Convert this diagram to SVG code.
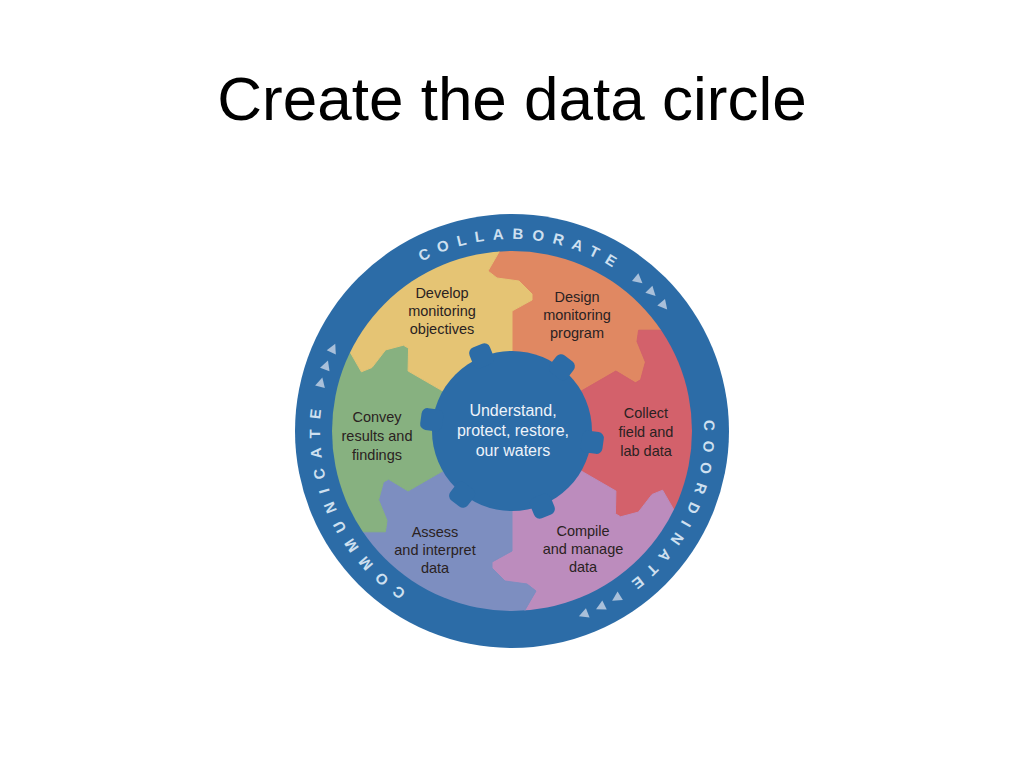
<svg xmlns="http://www.w3.org/2000/svg" width="1024" height="768" viewBox="0 0 1024 768">
<style>
.title{font-family:"Liberation Sans",Arial,sans-serif;font-size:62px;fill:#000;text-anchor:middle}
.lbl{font-family:"Liberation Sans",Arial,sans-serif;font-size:14.5px;fill:#2a2222;text-anchor:middle}
.hubt{font-family:"Liberation Sans",Arial,sans-serif;font-size:16px;fill:#eef3fa;text-anchor:middle}
.ring{font-family:"Liberation Sans",Arial,sans-serif;font-size:15px;font-weight:bold;fill:#cfe0f0}
.tri{fill:#a9c0da}
.blue{fill:#2c6ca7}
.pc{stroke-width:1;stroke-linejoin:round}
</style>
<defs>
<clipPath id="disc"><circle cx="512" cy="431" r="180"/></clipPath>
<path id="arc" d="M512,623 A192,192 0 1,1 512,239 A192,192 0 1,1 512,623"/>
<polygon id="tri" points="-4.5,-5 5,0 -4.5,5"/>
<rect id="tooth" x="501" y="339" width="22" height="22" rx="6"/>
</defs>
<rect width="1024" height="768" fill="#fff"/>
<text class="title" x="512" y="120">Create the data circle</text>

<g id="ring">
<circle class="blue" cx="512" cy="431" r="217"/>
<text class="ring" style="letter-spacing:8.6px"><textPath href="#arc" startOffset="508.7">COLLABORATE</textPath></text>
<text class="ring" style="letter-spacing:9.4px"><textPath href="#arc" startOffset="893.4">COORDINATE</textPath></text>
<text class="ring" style="letter-spacing:9.8px"><textPath href="#arc" startOffset="111.9">COMMUNICATE</textPath></text>
<g class="tri">
<use href="#tri" transform="rotate(40 512 431) translate(512 234)"/>
<use href="#tri" transform="rotate(45.3 512 431) translate(512 234)"/>
<use href="#tri" transform="rotate(50.5 512 431) translate(512 234)"/>
<use href="#tri" transform="rotate(148 512 431) translate(512 234)"/>
<use href="#tri" transform="rotate(153.3 512 431) translate(512 234)"/>
<use href="#tri" transform="rotate(158.7 512 431) translate(512 234)"/>
<use href="#tri" transform="rotate(284.3 512 431) translate(512 234)"/>
<use href="#tri" transform="rotate(289.5 512 431) translate(512 234)"/>
<use href="#tri" transform="rotate(294.8 512 431) translate(512 234)"/>
</g>
</g>

<g id="pieces" clip-path="url(#disc)">
<g id="design">
<path class="pc" fill="#e08862" stroke="#e08862" d="M512,431 L512,311 L532,300 L532,294 L519,281 L497,278 L488,271 L499,252 L499,221 L642,205.8 L687.4,314.7 L660.5,330.2 L638.6,330.2 L637,341.5 L645.4,362.1 L640.6,379.8 L635.45,382.8 L615.9,371 Z"/>
</g>
<g id="collect">
<path class="pc" fill="#d3616b" stroke="#d3616b" d="M512,431 L615.9,371 L635.45,382.8 L640.6,379.8 L645.4,362.1 L637,341.5 L638.6,330.2 L660.5,330.2 L687.4,314.7 L772,431 L700.4,524.7 L673.5,509.2 L662.6,490.2 L652,494.5 L638.4,512.1 L620.6,516.8 L615.45,513.8 L615.9,491 Z"/>
</g>
<g id="compile">
<path class="pc" fill="#bc8cbd" stroke="#bc8cbd" d="M512,431 L615.9,491 L615.45,513.8 L620.6,516.8 L638.4,512.1 L652,494.5 L662.6,490.2 L673.5,509.2 L700.4,524.7 L642,656.2 L525,641 L525,610 L536,591 L527,584 L505,581 L492,568 L492,562 L512,551 Z"/>
</g>
<g id="assess">
<path class="pc" fill="#7d8ec0" stroke="#7d8ec0" d="M512,431 L512,551 L492,562 L492,568 L505,581 L527,584 L536,591 L525,610 L525,641 L382,656.2 L336.6,547.3 L363.5,531.8 L385.4,531.8 L387,520.5 L378.6,499.9 L383.4,482.2 L388.55,479.2 L408.1,491 Z"/>
</g>
<g id="convey">
<path class="pc" fill="#87b180" stroke="#87b180" d="M512,431 L408.1,491 L388.55,479.2 L383.4,482.2 L378.6,499.9 L387,520.5 L385.4,531.8 L363.5,531.8 L336.6,547.3 L252,431 L323.6,337.3 L350.5,352.8 L361.4,371.8 L372,367.5 L385.6,349.9 L403.4,345.2 L408.55,348.2 L408.1,371 Z"/>
</g>
<g id="develop">
<path class="pc" fill="#e5c474" stroke="#e5c474" d="M512,431 L408.1,371 L408.55,348.2 L403.4,345.2 L385.6,349.9 L372,367.5 L361.4,371.8 L350.5,352.8 L323.6,337.3 L382,205.8 L499,221 L499,252 L488,271 L497,278 L519,281 L532,294 L532,300 L512,311 Z"/>
</g>
</g>

<g id="labels">
<text class="lbl" x="442" y="298">Develop</text>
<text class="lbl" x="442" y="316">monitoring</text>
<text class="lbl" x="442" y="334">objectives</text>
<text class="lbl" x="577" y="302">Design</text>
<text class="lbl" x="577" y="320">monitoring</text>
<text class="lbl" x="577" y="338">program</text>
<text class="lbl" x="646" y="418">Collect</text>
<text class="lbl" x="646" y="437">field and</text>
<text class="lbl" x="646" y="456">lab data</text>
<text class="lbl" x="583" y="536">Compile</text>
<text class="lbl" x="583" y="554">and manage</text>
<text class="lbl" x="583" y="572">data</text>
<text class="lbl" x="435" y="537">Assess</text>
<text class="lbl" x="435" y="555">and interpret</text>
<text class="lbl" x="435" y="573">data</text>
<text class="lbl" x="377" y="422">Convey</text>
<text class="lbl" x="377" y="441">results and</text>
<text class="lbl" x="377" y="460">findings</text>
</g>

<g id="hub" class="blue">
<circle cx="512" cy="431" r="80"/>
<use href="#tooth" transform="rotate(38 512 431)"/>
<use href="#tooth" transform="rotate(98 512 431)"/>
<use href="#tooth" transform="rotate(158 512 431)"/>
<use href="#tooth" transform="rotate(218 512 431)"/>
<use href="#tooth" transform="rotate(278 512 431)"/>
<use href="#tooth" transform="rotate(338 512 431)"/>
<text class="hubt" x="513" y="416">Understand,</text>
<text class="hubt" x="513" y="436">protect, restore,</text>
<text class="hubt" x="513" y="456">our waters</text>
</g>

<g id="connectors"/>
</svg>
